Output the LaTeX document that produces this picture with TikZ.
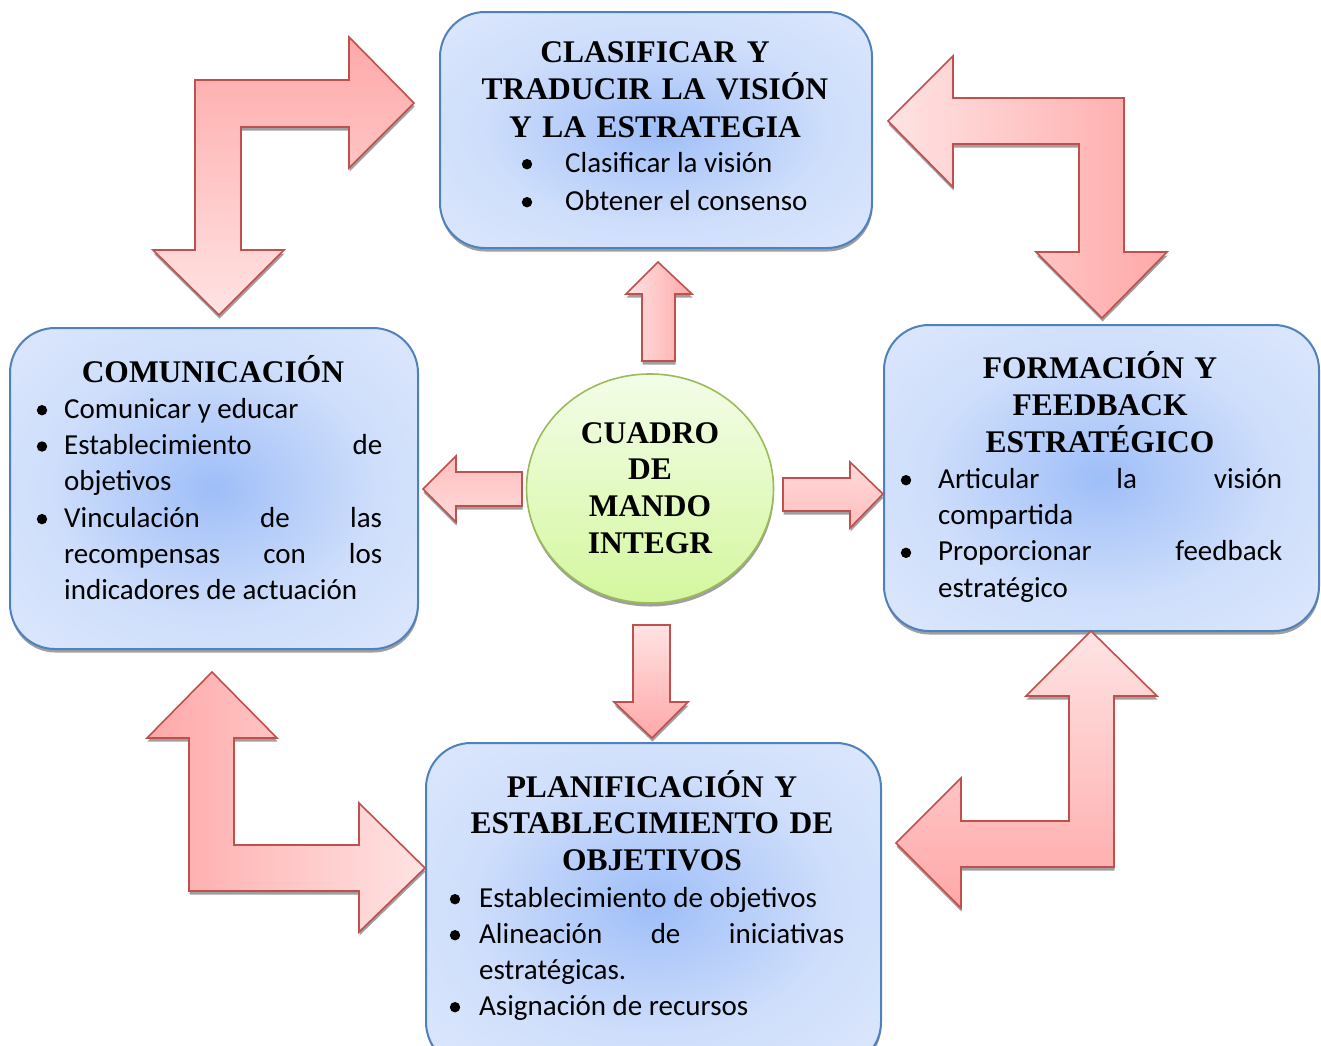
\documentclass[tikz,border=0pt]{standalone}
\usepackage{fontspec}
\setmainfont{Liberation Serif}
\newfontfamily\bodyfont{Carlito}
\usetikzlibrary{shapes.geometric,shadows}

\definecolor{panelline}{HTML}{4F81BD}
\definecolor{glowA}{HTML}{9EBEF8}
\definecolor{glowB}{HTML}{B2CBF9}
\definecolor{glowC}{HTML}{CEDEFB}
\definecolor{glowD}{HTML}{DCE7FC}
\definecolor{glowE}{HTML}{E2EBFD}
\definecolor{arrowline}{HTML}{C0504D}
\definecolor{arrowdark}{HTML}{FFA8A8}
\definecolor{arrowlight}{HTML}{FFE3E3}
\definecolor{arrowmid}{HTML}{FFC4C4}
\definecolor{ringline}{HTML}{9BBB59}
\definecolor{ringtop}{HTML}{F3FDE8}
\definecolor{ringbottom}{HTML}{D4F79E}

\pgfdeclareradialshading{boxglow}{\pgfpoint{0bp}{0bp}}{%
  color(0bp)=(glowA); color(8bp)=(glowB); color(20bp)=(glowC);
  color(35bp)=(glowD); color(60bp)=(glowE)}

% uniform baselines inside every text block
\lineskiplimit=-100pt

% round bullet hanging to the left of an item, #1 = gap before the text
\newcommand\itemdot[1]{\llap{\tikz[baseline=-8pt]\fill[black] (0,0) circle (5.2pt);\hspace{#1}}}

\tikzset{
  softshadow/.style={drop shadow={shadow xshift=0.5pt, shadow yshift=-3.5pt,
      fill=black!50, opacity=0.75}},
  panel/.style={draw=panelline, line width=2pt, rounded corners=45pt,
      shading=boxglow, softshadow, anchor=north west, inner sep=0pt},
  blockarrow/.style={draw=arrowline, line width=1.6pt, line join=miter, softshadow},
  heading/.style={font=\bfseries\fontsize{31.5}{#1}\selectfont, align=center,
      text width=420pt, inner sep=0pt, anchor=north},
  heading/.default=37.5,
  items/.style={font=\bodyfont\fontsize{29}{#1}\selectfont, align=left,
      inner sep=0pt, anchor=north west},
  items/.default=36.3,
}

\begin{document}
\begin{tikzpicture}[x=1pt,y=-1pt]
\path[use as bounding box, fill=white] (0,0) rectangle (1321,1045);

% ---- the four panels ----
\node[panel, minimum width=432pt, minimum height=236pt] (vision) at (439,11) {};
\node[panel, minimum width=408pt, minimum height=321pt] (comm) at (9,327) {};
\node[panel, minimum width=435pt, minimum height=306pt] (feedback) at (883,324) {};
\node[panel, minimum width=455pt, minimum height=324pt] (plan) at (425,742) {};

% ---- central ellipse ----
\node[ellipse, draw=ringline, line width=1.6pt, top color=ringtop,
      bottom color=ringbottom, minimum width=247pt, minimum height=229pt,
      softshadow] (core) at (650,488.5) {};

% ---- bent arrows between the panels ----
\path[blockarrow, top color=arrowdark, bottom color=arrowlight] (195,250) -- (153,250) -- (219,315) -- (284,250) -- (241,250) -- (241,127) -- (349,127) -- (349,168) -- (414,103) -- (349,37) -- (349,80) -- (195,80) -- cycle;
\path[blockarrow, left color=arrowlight, right color=arrowdark] (888,121) -- (953,56) -- (953,98) -- (1124,98) -- (1124,252) -- (1167,252) -- (1102,318) -- (1036,252) -- (1079,252) -- (1079,144) -- (953,144) -- (953,187) -- cycle;
\path[blockarrow, top color=arrowlight, bottom color=arrowdark] (1091,631) -- (1157,696) -- (1114,696) -- (1114,867) -- (961,867) -- (961,908) -- (896,843) -- (961,778) -- (961,821) -- (1069,821) -- (1069,696) -- (1026,696) -- cycle;
\path[blockarrow, left color=arrowdark, right color=arrowlight] (212,672) -- (277,738) -- (234,738) -- (234,845) -- (359,845) -- (359,803) -- (425,868) -- (359,932) -- (359,891) -- (189,891) -- (189,738) -- (147,738) -- cycle;

% ---- straight arrows leaving the ellipse ----
\path[blockarrow, left color=arrowlight, right color=arrowdark] (658,262) -- (692,294) -- (675,294) -- (675,361) -- (642,361) -- (642,294) -- (626,294) -- cycle;
\path[blockarrow, top color=arrowlight, bottom color=arrowdark] (633,625) -- (670,625) -- (670,702) -- (688,702) -- (652,738) -- (614,702) -- (633,702) -- cycle;
\path[blockarrow, top color=arrowmid!80!arrowdark, bottom color=arrowlight!70!arrowmid] (423,489) -- (456,456) -- (456,472) -- (522,472) -- (522,506) -- (456,506) -- (456,522) -- cycle;
\path[blockarrow, top color=arrowlight!70!arrowmid, bottom color=arrowmid!80!arrowdark] (783,478) -- (850,478) -- (850,462) -- (883,494) -- (850,528) -- (850,511) -- (783,511) -- cycle;

% ---- headings ----
\node[heading] (visionTitle) at (655,28) {\rule{0pt}{34pt}CLASIFICAR Y\\TRADUCIR LA VISIÓN\\Y LA ESTRATEGIA};
\node[heading] (commTitle) at (213,348) {\rule{0pt}{34pt}COMUNICACIÓN};
\node[heading=37] (feedbackTitle) at (1100,344) {\rule{0pt}{34pt}FORMACIÓN Y\\FEEDBACK\\ESTRATÉGICO};
\node[heading=36.5] (planTitle) at (652,763) {\rule{0pt}{34pt}PLANIFICACIÓN Y\\ESTABLECIMIENTO DE\\OBJETIVOS};
\node[heading=36.7] (coreTitle) at (650,409) {\rule{0pt}{34pt}CUADRO\\DE\\MANDO\\INTEGR};

% ---- bullet lists ----
\node[items=38] (visionList) at (565,138) {%
  \rule{0pt}{34pt}\itemdot{33pt}Clasificar la visión\\
  \itemdot{33pt}Obtener el consenso};
\node[items] (commList) at (64,384) {%
  \rule{0pt}{34pt}\itemdot{17pt}Comunicar y educar\\
  \itemdot{17pt}\hbox to 318pt{Establecimiento\hfill de}\\
  objetivos\\
  \itemdot{17pt}\hbox to 318pt{Vinculación\hfill de\hfill las}\\
  \hbox to 318pt{recompensas\hfill con\hfill los}\\
  indicadores de actuación};
\node[items] (feedbackList) at (938,454) {%
  \rule{0pt}{34pt}\itemdot{27pt}\hbox to 344pt{Articular\hfill la\hfill visión}\\
  compartida\\
  \itemdot{27pt}\hbox to 344pt{Proporcionar\hfill feedback}\\
  estratégico};
\node[items=36] (planList) at (479,873) {%
  \rule{0pt}{34pt}\itemdot{19pt}Establecimiento de objetivos\\
  \itemdot{19pt}\hbox to 365pt{Alineación\hfill de\hfill iniciativas}\\
  estratégicas.\\
  \itemdot{19pt}Asignación de recursos};
\end{tikzpicture}
\end{document}
